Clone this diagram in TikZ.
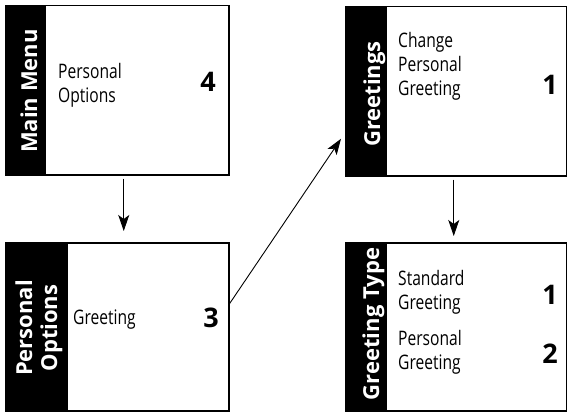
\documentclass[tikz,border=0pt]{standalone}
\usepackage{fontspec}
\setmainfont{Open Sans}
\newfontfamily\bodyfont{Open Sans}[FakeStretch=0.78]
\usetikzlibrary{arrows.meta}
\begin{document}
\begin{tikzpicture}[x=1pt,y=-1pt,
  box/.style={draw=black, line width=1.5pt, fill=white, anchor=north west, inner sep=0pt},
  band/.style={fill=black},
  hdr/.style={text=white, font=\fontsize{22}{25}\selectfont\bfseries, rotate=90, anchor=base, inner sep=0pt},
  body/.style={font=\bodyfont\fontsize{20}{24}\selectfont, anchor=base west, inner sep=0pt},
  num/.style={font=\fontsize{27}{27}\selectfont\bfseries, anchor=base, inner sep=0pt},
  arr/.style={line width=0.9pt, -{Stealth[length=16pt,width=11pt,inset=4pt]}}]

\useasboundingbox (0,0) rectangle (567,412);

% Main Menu
\node[box, minimum width=223pt, minimum height=169pt] (b1) at (5,5) {};
\fill[band] (b1.north west) rectangle ([xshift=41pt]b1.south west);
\node[hdr] (h1) at (37,91) {Main Menu};
\node[body] (t1) at (58,78) {\begin{tabular}[t]{@{}l@{}}Personal\\Options\end{tabular}};
\node[num] (n1) at (208,91) {4};

% Personal Options
\node[box, minimum width=223pt, minimum height=168pt] (b2) at (5,242) {};
\fill[band] (b2.north west) rectangle ([xshift=63pt]b2.south west);
\node[hdr] (h2) at (32,328) {\begin{tabular}[t]{@{}c@{}}Personal\\Options\end{tabular}};
\node[body] (t2) at (73,324) {Greeting};
\node[num] (n2) at (211,327) {3};

% Greetings
\node[box, minimum width=221pt, minimum height=169pt] (b3) at (345,6) {};
\fill[band] (b3.north west) rectangle ([xshift=42pt]b3.south west);
\node[hdr] (h3) at (380,94) {Greetings};
\node[body] (t3) at (398,48) {\begin{tabular}[t]{@{}l@{}}Change\\Personal\\Greeting\end{tabular}};
\node[num] (n3) at (550,94) {1};

% Greeting Type
\node[box, minimum width=221pt, minimum height=168pt] (b4) at (345,242) {};
\fill[band] (b4.north west) rectangle ([xshift=42pt]b4.south west);
\node[hdr] (h4) at (379,324) {Greeting Type};
\node[body] (t4a) at (398,285) {\begin{tabular}[t]{@{}l@{}}Standard\\Greeting\end{tabular}};
\node[body] (t4b) at (398,345) {\begin{tabular}[t]{@{}l@{}}Personal\\Greeting\end{tabular}};
\node[num] (n4a) at (550,304) {1};
\node[num] (n4b) at (550,363) {2};

% connectors
\draw[arr] ([xshift=6.5pt,yshift=-3pt]b1.south) -- ([xshift=6.5pt,yshift=11pt]b2.north);
\draw[arr] ([xshift=-2.5pt,yshift=-3pt]b3.south) -- ([xshift=-2.5pt,yshift=6pt]b4.north);
\draw[arr] ([yshift=23pt]b2.east) -- ([xshift=-4pt,yshift=-47.5pt]b3.west);
\end{tikzpicture}
\end{document}
